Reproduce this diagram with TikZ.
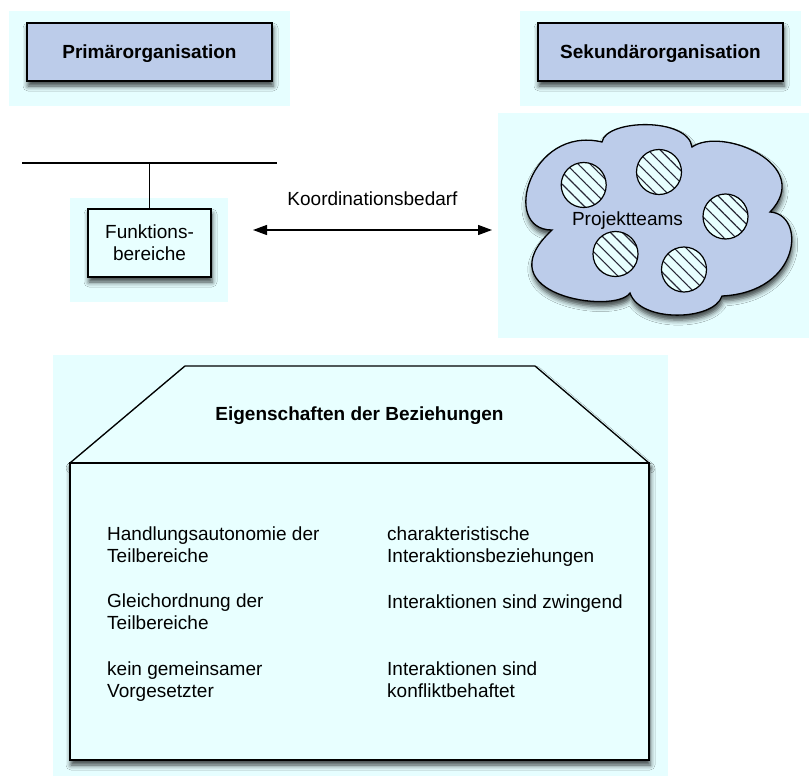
\documentclass[tikz,border=0pt]{standalone}
\usepackage{fontspec}
\setmainfont{Liberation Sans}
\usetikzlibrary{arrows.meta,shadows.blur,patterns.meta}
\definecolor{panel}{RGB}{230,254,255}
\definecolor{orgblue}{RGB}{188,204,234}
\definecolor{boxcyan}{RGB}{232,255,255}
\definecolor{hatch}{RGB}{40,40,55}
\begin{document}
\begin{tikzpicture}[x=1pt,y=1pt,
  font=\fontsize{19}{22}\selectfont,
  every node/.style={inner sep=0pt},
  panelbg/.style={fill=panel,draw=none},
  softshadow/.style={blur shadow={shadow xshift=1pt,shadow yshift=-5pt,shadow blur radius=5pt,shadow opacity=75}},
  outline/.style={draw=black,line width=1.3pt},
  orgbox/.style={outline,fill=orgblue,softshadow,minimum width=245pt,minimum height=58pt,
    text height=14pt,text depth=0pt,font=\fontsize{19}{22}\selectfont\bfseries},
  funcbox/.style={outline,fill=boxcyan,softshadow,minimum width=123pt,minimum height=68pt,align=center},
  team/.style={circle,draw=black,line width=1.2pt,minimum size=45pt,
    preaction={fill=boxcyan},pattern={Lines[angle=-45,distance=8.5pt,line width=1.1pt]},pattern color=hatch},
  item/.style={anchor=base west,align=left},
  twoway/.style={line width=1.3pt,>={Triangle[length=14pt,width=10pt]},<->}
]
\useasboundingbox (0,0) rectangle (809,-776);
\fill[white] (0,0) rectangle (809,-776);

% light background panels
\fill[panelbg] (9,-11) rectangle (290,-106);
\fill[panelbg] (520,-11) rectangle (801,-106);
\fill[panelbg] (498,-113) rectangle (809,-338);
\fill[panelbg] (70,-198) rectangle (228,-302);
\fill[panelbg] (53,-355) rectangle (668,-776);

% headings
\node[orgbox] (prim) at (149.5,-52) {Primärorganisation};
\node[orgbox] (sek) at (660.5,-52) {Sekundärorganisation};

% line organisation with the functional units
\coordinate (hl) at (22,-163);
\coordinate (hr) at (277,-163);
\node[funcbox] (fb) at (149.5,-243) {Funktions-\\bereiche};
\draw[line width=1.1pt] (hl) -- (hr);
\draw[line width=1.1pt] (fb.north |- hl) -- (fb.north);

% coordination arrow
\coordinate (al) at (253,-230);
\coordinate (ar) at (492,-230);
\draw[twoway] (al) -- (ar);
\node (kb) at (372.5,-199) {Koordinationsbedarf};

% cloud of project teams
\draw[outline,fill=orgblue,softshadow]
  (602,-142) .. controls (606,-119) and (688,-117) .. (692,-147)
             .. controls (722,-126) and (815,-165) .. (770,-212)
             .. controls (806,-214) and (802,-292) .. (722,-296)
             .. controls (714,-321) and (640,-323) .. (630,-293)
             .. controls (615,-315) and (482,-295) .. (552,-230)
             .. controls (500,-230) and (530,-125) .. cycle;
\node[team] (t1) at (583.7,-185) {};
\node[team] (t2) at (659,-172) {};
\node[team] (t3) at (725.5,-216.5) {};
\node[team] (t4) at (615.5,-254) {};
\node[team] (t5) at (684,-269.5) {};
\node (pt) at (627.5,-221) {Projektteams};

% properties of the relations
\draw[outline,fill=boxcyan,softshadow] (70,-463) -- (185,-366) -- (535,-366) -- (649,-463) -- cycle;
\node[outline,fill=boxcyan,softshadow,minimum width=579pt,minimum height=297pt] (hb) at (359.5,-611.5) {};
\node[font=\fontsize{19}{22}\selectfont\bfseries] (title) at (359.5,-416) {Eigenschaften der Beziehungen};

% multi-line items are placed by the baseline of their last line
\node[item] (l1) at (107,-562) {Handlungsautonomie der\\Teilbereiche};
\node[item] (l2) at (107,-629) {Gleichordnung der\\Teilbereiche};
\node[item] (l3) at (107,-697) {kein gemeinsamer\\Vorgesetzter};
\node[item] (r1) at (387,-562) {charakteristische\\Interaktionsbeziehungen};
\node[item] (r2) at (387,-608) {Interaktionen sind zwingend};
\node[item] (r3) at (387,-697) {Interaktionen sind\\konfliktbehaftet};
\end{tikzpicture}
\end{document}
